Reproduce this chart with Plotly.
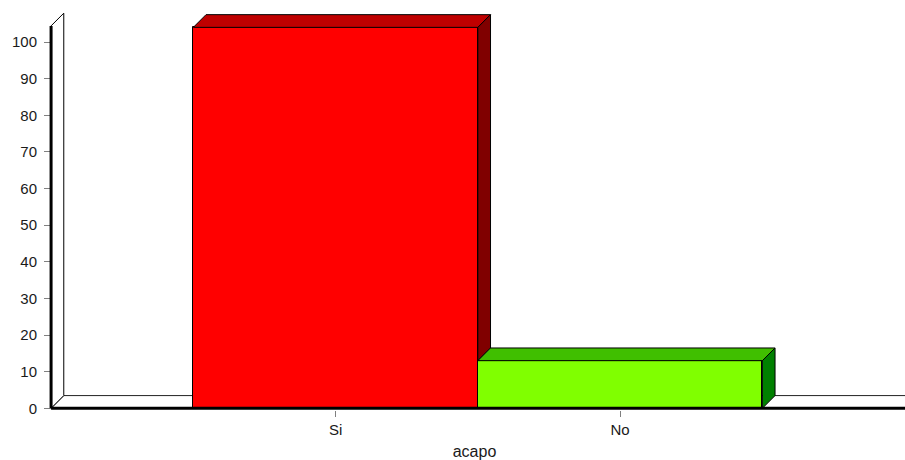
import plotly.graph_objects as go

# ---- data ----
categories = ["Si", "No"]
counts = [104, 13]
front_colors = ["#FF0000", "#80FF00"]
top_colors = ["#BF0000", "#40BF00"]
side_colors = ["#800000", "#008000"]
y_tickvals = [0, 10, 20, 30, 40, 50, 60, 70, 80, 90, 100]
x_title = "acapo"

# ---- geometry of the pseudo-3D frame (data units) ----
X_MIN, X_MAX = -1.0249, 2.0014
Y_MIN, Y_MAX = -0.464, 107.92
WALL_X = -1.0
WALL_TOP = 104.4
DX = 0.0446   # depth offset in x (≈12.7 px)
DY = 3.47     # depth offset in y (≈12.7 px)

fig = go.Figure()

# front faces
xs_idx = list(range(len(categories)))
fig.add_trace(go.Bar(
    x=xs_idx, y=counts, width=1,
    marker=dict(color=front_colors, line=dict(color="black", width=1)),
    hoverinfo="skip", showlegend=False,
))

# top and side faces
for i, v in enumerate(counts):
    x0, x1 = i - 0.5, i + 0.5
    fig.add_trace(go.Scatter(
        x=[x0, x0 + DX, x1 + DX, x1, x0],
        y=[v, v + DY, v + DY, v, v],
        fill="toself", fillcolor=top_colors[i], mode="lines",
        line=dict(color="black", width=1), hoverinfo="skip", showlegend=False,
    ))
    base = min(counts[i + 1], v) if i + 1 < len(counts) else 0
    fig.add_trace(go.Scatter(
        x=[x1, x1 + DX, x1 + DX, x1, x1],
        y=[base, base + DY, v + DY, v, base],
        fill="toself", fillcolor=side_colors[i], mode="lines",
        line=dict(color="black", width=1), hoverinfo="skip", showlegend=False,
    ))

shapes = [
    # floor
    dict(type="path", layer="below", xref="x", yref="y",
         path=f"M {WALL_X},0 L {X_MAX + 0.1},0 L {X_MAX + 0.1},{DY} L {WALL_X + DX},{DY} Z",
         fillcolor="white", line=dict(color="#222222", width=1)),
    # left wall
    dict(type="path", layer="below", xref="x", yref="y",
         path=f"M {WALL_X},0 L {WALL_X},{WALL_TOP} L {WALL_X + DX},{WALL_TOP + DY} L {WALL_X + DX},{DY} Z",
         fillcolor="white", line=dict(color="black", width=1)),
    # thick front edges
    dict(type="line", layer="above", xref="x", yref="y",
         x0=WALL_X, x1=X_MAX + 0.1, y0=0, y1=0, line=dict(color="black", width=3)),
    dict(type="line", layer="above", xref="x", yref="y",
         x0=WALL_X, x1=WALL_X, y0=0, y1=WALL_TOP, line=dict(color="black", width=3)),
]

font = dict(family="Liberation Sans, Arial, sans-serif", size=15, color="#1a1a1a")
title_font = dict(family="Liberation Sans, Arial, sans-serif", size=16, color="#1a1a1a")

fig.update_layout(
    width=905, height=460,
    margin=dict(l=44, r=0, t=13, b=50),
    paper_bgcolor="white", plot_bgcolor="white",
    showlegend=False, bargap=0,
    shapes=shapes,
    font=font,
    xaxis=dict(
        range=[X_MIN, X_MAX], tickvals=xs_idx, ticktext=categories,
        ticks="outside", ticklen=6, tickcolor="#808080", tickwidth=1,
        showgrid=False, zeroline=False, showline=False,
        title=dict(text=x_title, standoff=9, font=title_font),
        automargin=False, fixedrange=True,
    ),
    yaxis=dict(
        range=[Y_MIN, Y_MAX], tickvals=y_tickvals,
        ticks="inside", ticklen=6, tickcolor="#808080", tickwidth=1,
        ticklabelstandoff=6,
        showgrid=False, zeroline=False, showline=False,
        automargin=False, fixedrange=True,
    ),
)

fig.write_html(
    "out.html",
    config={"displayModeBar": False},
    post_script="document.body.style.margin='0';document.body.style.overflow='hidden';",
)
